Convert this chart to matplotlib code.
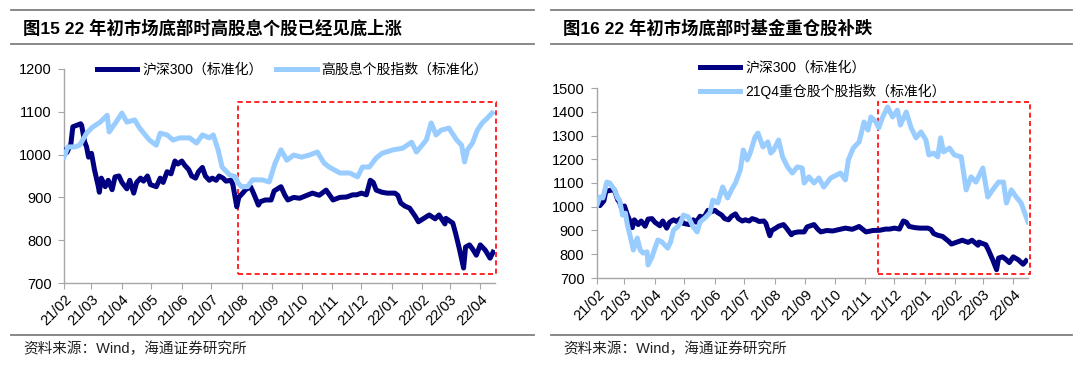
import pandas as pd
import matplotlib
matplotlib.use('Agg')
from matplotlib import pyplot as plt
import matplotlib.dates as mdates
from matplotlib.patches import Rectangle
from matplotlib.lines import Line2D

plt.rcParams['font.family'] = ['Liberation Sans', 'Noto Sans CJK SC', 'DejaVu Sans']

# ---- data ----
hs300_dates = ['2021-02-01', '2021-02-04', '2021-02-08', '2021-02-10', '2021-02-18', '2021-02-19',
               '2021-02-22', '2021-02-24', '2021-02-26', '2021-03-01', '2021-03-04', '2021-03-08',
               '2021-03-09', '2021-03-11', '2021-03-15', '2021-03-18', '2021-03-22', '2021-03-25',
               '2021-03-29', '2021-04-01', '2021-04-06', '2021-04-09', '2021-04-13', '2021-04-16',
               '2021-04-20', '2021-04-23', '2021-04-27', '2021-04-30', '2021-05-06', '2021-05-10',
               '2021-05-13', '2021-05-17', '2021-05-21', '2021-05-25', '2021-05-28', '2021-06-01',
               '2021-06-04', '2021-06-08', '2021-06-11', '2021-06-15', '2021-06-18', '2021-06-22',
               '2021-06-25', '2021-06-29', '2021-07-02', '2021-07-06', '2021-07-09', '2021-07-13',
               '2021-07-16', '2021-07-21', '2021-07-23', '2021-07-27', '2021-07-29', '2021-08-02',
               '2021-08-05', '2021-08-10', '2021-08-13', '2021-08-18', '2021-08-20', '2021-08-25',
               '2021-08-31', '2021-09-03', '2021-09-10', '2021-09-14', '2021-09-17', '2021-09-23',
               '2021-09-29', '2021-10-12', '2021-10-19', '2021-10-26', '2021-11-02', '2021-11-09',
               '2021-11-16', '2021-11-22', '2021-11-26', '2021-12-01', '2021-12-06', '2021-12-10',
               '2021-12-13', '2021-12-16', '2021-12-22', '2021-12-27', '2022-01-04', '2022-01-07',
               '2022-01-10', '2022-01-14', '2022-01-19', '2022-01-25', '2022-01-28', '2022-02-08',
               '2022-02-14', '2022-02-18', '2022-02-24', '2022-02-25', '2022-03-04', '2022-03-07',
               '2022-03-09', '2022-03-11', '2022-03-15', '2022-03-17', '2022-03-21', '2022-03-24',
               '2022-03-28', '2022-04-01', '2022-04-06', '2022-04-11', '2022-04-14']
hs300 = [1010, 1005, 1025, 1065, 1072, 1068,
         1030, 1018, 994, 1003, 965, 925,
         912, 945, 925, 940, 918, 948,
         950, 935, 920, 940, 910, 935,
         945, 938, 950, 930, 925, 945,
         935, 960, 955, 985, 978, 985,
         975, 965, 950, 945, 960, 970,
         950, 940, 945, 940, 950, 945,
         938, 940, 930, 878, 900, 910,
         918, 925, 910, 882, 890, 894,
         894, 915, 925, 905, 894, 900,
         898, 910, 905, 917, 894, 900,
         901, 906, 906, 910, 906, 940,
         935, 917, 912, 910, 910, 905,
         887, 880, 875, 855, 843, 859,
         850, 859, 838, 851, 840, 815,
         796, 777, 735, 784, 789, 780,
         765, 789, 777, 758, 772]

gxd_dates = ['2021-02-01', '2021-02-05', '2021-02-12', '2021-02-17', '2021-02-24', '2021-03-02',
             '2021-03-10', '2021-03-17', '2021-03-19', '2021-03-26', '2021-04-01', '2021-04-06',
             '2021-04-14', '2021-04-19', '2021-04-29', '2021-05-06', '2021-05-10', '2021-05-17',
             '2021-05-23', '2021-05-30', '2021-06-09', '2021-06-16', '2021-06-22', '2021-06-29',
             '2021-07-03', '2021-07-08', '2021-07-12', '2021-07-20', '2021-07-26', '2021-07-28',
             '2021-08-01', '2021-08-07', '2021-08-12', '2021-08-22', '2021-08-29', '2021-09-04',
             '2021-09-10', '2021-09-16', '2021-09-23', '2021-10-01', '2021-10-09', '2021-10-17',
             '2021-10-24', '2021-10-29', '2021-11-09', '2021-11-19', '2021-11-27', '2021-12-02',
             '2021-12-09', '2021-12-16', '2021-12-22', '2022-01-02', '2022-01-12', '2022-01-21',
             '2022-01-26', '2022-02-05', '2022-02-10', '2022-02-15', '2022-02-20', '2022-02-28',
             '2022-03-08', '2022-03-13', '2022-03-16', '2022-03-19', '2022-03-24', '2022-03-29',
             '2022-04-03', '2022-04-08', '2022-04-13']
gxd = [994, 1018, 1018, 1022, 1050, 1064,
       1076, 1092, 1053, 1076, 1097, 1076,
       1081, 1062, 1034, 1022, 1050, 1046,
       1034, 1039, 1039, 1027, 1046, 1039,
       1046, 1011, 971, 952, 948, 934,
       925, 925, 941, 941, 936, 980,
       1011, 987, 999, 994, 999, 1006,
       980, 971, 957, 957, 948, 971,
       971, 992, 1003, 1011, 1015, 1029,
       1006, 1034, 1074, 1046, 1057, 1062,
       1034, 1022, 983, 1011, 1027, 1057,
       1074, 1085, 1097]

zc_dates = ['2021-02-01', '2021-02-04', '2021-02-07', '2021-02-11', '2021-02-14', '2021-02-19',
            '2021-02-22', '2021-02-24', '2021-02-27', '2021-03-02', '2021-03-04', '2021-03-07',
            '2021-03-10', '2021-03-14', '2021-03-17', '2021-03-20', '2021-03-24', '2021-03-25',
            '2021-03-29', '2021-04-01', '2021-04-04', '2021-04-08', '2021-04-14', '2021-04-17',
            '2021-04-20', '2021-04-24', '2021-04-27', '2021-04-30', '2021-05-05', '2021-05-10',
            '2021-05-14', '2021-05-17', '2021-05-22', '2021-05-27', '2021-05-30', '2021-06-04',
            '2021-06-09', '2021-06-14', '2021-06-19', '2021-06-22', '2021-06-27', '2021-06-30',
            '2021-07-04', '2021-07-07', '2021-07-12', '2021-07-15', '2021-07-20', '2021-07-25',
            '2021-07-28', '2021-07-31', '2021-08-05', '2021-08-09', '2021-08-14', '2021-08-19',
            '2021-08-24', '2021-08-29', '2021-08-31', '2021-09-05', '2021-09-10', '2021-09-15',
            '2021-09-20', '2021-09-27', '2021-10-07', '2021-10-12', '2021-10-15', '2021-10-20',
            '2021-10-26', '2021-10-31', '2021-11-04', '2021-11-07', '2021-11-12', '2021-11-15',
            '2021-11-19', '2021-11-24', '2021-11-29', '2021-12-04', '2021-12-07', '2021-12-13',
            '2021-12-18', '2021-12-23', '2021-12-28', '2022-01-02', '2022-01-05', '2022-01-10',
            '2022-01-14', '2022-01-17', '2022-01-20', '2022-01-26', '2022-01-31', '2022-02-07',
            '2022-02-12', '2022-02-17', '2022-02-22', '2022-03-01', '2022-03-06', '2022-03-11',
            '2022-03-17', '2022-03-22', '2022-03-25', '2022-03-30', '2022-04-04', '2022-04-09',
            '2022-04-13', '2022-04-16']
zc = [1007, 1041, 1037, 1104, 1100, 1071,
      1037, 1028, 965, 973, 923, 873,
      818, 868, 818, 805, 810, 755,
      788, 826, 860, 852, 826, 852,
      902, 915, 932, 965, 957, 915,
      894, 936, 953, 975, 1028, 1016,
      1083, 1037, 1079, 1100, 1155, 1239,
      1197, 1226, 1294, 1310, 1252, 1273,
      1226, 1239, 1281, 1210, 1168, 1142,
      1168, 1163, 1100, 1126, 1100, 1121,
      1083, 1121, 1142, 1113, 1197, 1247,
      1273, 1357, 1323, 1378, 1357, 1332,
      1378, 1420, 1378, 1407, 1344, 1399,
      1332, 1290, 1315, 1281, 1218, 1226,
      1210, 1290, 1231, 1247, 1218, 1210,
      1071, 1126, 1104, 1163, 1041, 1071,
      1104, 1104, 1016, 1071, 1041, 1016,
      970, 936]

left_title = '图15 22 年初市场底部时高股息个股已经见底上涨'
right_title = '图16 22 年初市场底部时基金重仓股补跌'
source = '资料来源：Wind，海通证券研究所'
hs300_label = '沪深300（标准化）'
gxd_label = '高股息个股指数（标准化）'
zc_label = '21Q4重仓股个股指数（标准化）'

dark = '#000080'
light = '#99CCFF'
axis_gray = '#A6A6A6'
lw_series = 3.6

W, H = 1080, 365
fig = plt.figure(figsize=(W / 100, H / 100), dpi=100)


def fx(px):
    return px / W


def fy(py):
    return 1 - py / H


def style_axes(ax, ymin, ymax):
    ax.set_xlim(pd.Timestamp('2021-02-01'), pd.Timestamp('2022-04-16'))
    ax.set_ylim(ymin, ymax)
    ax.set_yticks(range(ymin, ymax + 1, 100))
    ax.xaxis.set_major_locator(mdates.MonthLocator())
    ax.xaxis.set_major_formatter(mdates.DateFormatter('%y/%m'))
    for s in ['top', 'right']:
        ax.spines[s].set_visible(False)
    for s in ['left', 'bottom']:
        ax.spines[s].set_color(axis_gray)
        ax.spines[s].set_linewidth(1.0)
    ax.tick_params(axis='both', direction='out', length=4, color=axis_gray,
                   labelsize=10.5, labelcolor='#000000')
    ax.tick_params(axis='y', pad=5)
    ax.tick_params(axis='x', pad=3)
    for lab in ax.get_xticklabels():
        lab.set_rotation(45)
        lab.set_ha('right')
        lab.set_rotation_mode('anchor')


def red_box(ax, d0, d1, y0, y1):
    x0 = mdates.date2num(pd.Timestamp(d0))
    x1 = mdates.date2num(pd.Timestamp(d1))
    ax.add_patch(Rectangle((x0, y0), x1 - x0, y1 - y0, fill=False, ec='#FF0000',
                           ls=(0, (3, 2)), lw=1.2, clip_on=False, zorder=1))


hl = [Line2D([], [], color=dark, lw=lw_series), Line2D([], [], color=light, lw=lw_series)]

# ---- left panel ----
axl = fig.add_axes([fx(64), fy(283), fx(495 - 64), (283 - 69) / H])
axl.plot(pd.to_datetime(hs300_dates), hs300, color=dark, lw=lw_series, zorder=3)
axl.plot(pd.to_datetime(gxd_dates), gxd, color=light, lw=lw_series, zorder=4)
style_axes(axl, 700, 1200)
red_box(axl, '2021-07-28', '2022-04-17', 721, 1123)
axl.legend(hl, [hs300_label, gxd_label], loc='center left', ncol=2,
           bbox_to_anchor=(fx(97), fy(70)), bbox_transform=fig.transFigure,
           frameon=False, fontsize=10, handlelength=2.9, handletextpad=0.35,
           columnspacing=1.0, borderpad=0, borderaxespad=0)

# ---- right panel ----
axr = fig.add_axes([fx(597), fy(278), fx(1028 - 597), (278 - 88) / H])
axr.plot(pd.to_datetime(hs300_dates), hs300, color=dark, lw=lw_series, zorder=3)
axr.plot(pd.to_datetime(zc_dates), zc, color=light, lw=lw_series, zorder=4)
style_axes(axr, 700, 1500)
red_box(axr, '2021-11-14', '2022-04-18', 717, 1441)
axr.legend(hl, [hs300_label, zc_label], loc='upper left', ncol=1,
           bbox_to_anchor=(fx(700), fy(61)), bbox_transform=fig.transFigure,
           frameon=False, fontsize=10, handlelength=2.9, handletextpad=0.35,
           labelspacing=0.6, borderpad=0, borderaxespad=0)

# ---- titles, rules and source ----
line_gray = '#7F7F7F'
for xa, xb in [(11, 534), (551, 1072)]:
    for yy in [10, 44, 335]:
        fig.add_artist(Line2D([fx(xa), fx(xb)], [fy(yy), fy(yy)], color=line_gray, lw=1.3))

fig.text(fx(23), fy(28), left_title, fontsize=12.5, fontweight='bold', va='center', ha='left')
fig.text(fx(563), fy(28), right_title, fontsize=12.5, fontweight='bold', va='center', ha='left')
fig.text(fx(23), fy(349), source, fontsize=10.5, va='center', ha='left', color='#222222')
fig.text(fx(563), fy(349), source, fontsize=10.5, va='center', ha='left', color='#222222')

fig.savefig('out.png', dpi=100)
